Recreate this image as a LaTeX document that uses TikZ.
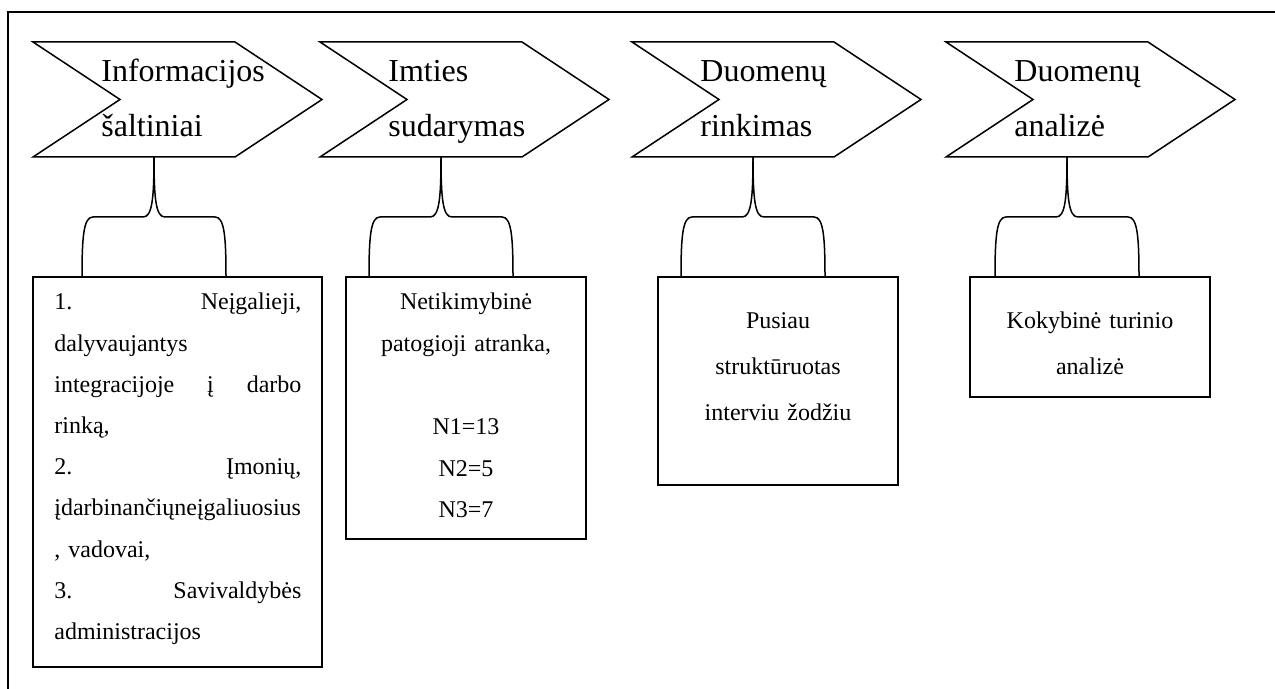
\documentclass[tikz,border=0pt]{standalone}
\usepackage{fontspec}
\setmainfont{Liberation Serif}
\usetikzlibrary{fit}

\tikzset{
  etapas/.style={line width=0.75pt, line join=miter},
  etapotekstas/.style={anchor=base west, inner sep=0pt, text width=110pt, align=left,
    font=\fontsize{16}{27.5}\selectfont},
  dezute/.style={draw, line width=0.75pt, inner sep=0pt},
  turinys/.style={inner sep=0pt, font=\fontsize{12}{20.6}\selectfont},
  skliaustas/.style={line width=0.75pt}
}

\begin{document}
\begin{tikzpicture}[x=0.5pt, y=-0.5pt]

\useasboundingbox (0,0) rectangle (1275,689);

% Remelis
\draw[line width=0.75pt] (8,689) -- (8,12) -- (1275,12);

% Dezutes
\node[dezute, fit={(33,277) (322,667)}] (b1) {};
\node[dezute, fit={(346,277) (586,539)}] (b2) {};
\node[dezute, fit={(658,277) (898,485)}] (b3) {};
\node[dezute, fit={(970,277) (1210,397)}] (b4) {};

\node[turinys, anchor=base west, text width=123.5pt, align=left] (s1) at (54,310)
  {1.\hfill Neįgalieji,\\
   dalyvaujantys\\
   integracijoje\hfill į\hfill darbo\\
   rinką,\\
   2.\hfill Įmonių,\\
   įdarbinančiųneįgaliuosius\\
   , vadovai,\\
   3.\hfill Savivaldybės\\
   administracijos};

\node[turinys, anchor=base, text width=110pt, align=center,
  font=\fontsize{12}{20.8}\selectfont] (s2) at (466,310)
  {Netikimybinė\\patogioji atranka,\\[20.8pt]N1=13\\N2=5\\N3=7};

\node[turinys, anchor=base, text width=110pt, align=center,
  font=\fontsize{12}{23}\selectfont] (s3) at (778,329)
  {Pusiau\\struktūruotas\\interviu žodžiu};

\node[turinys, anchor=base, text width=110pt, align=center,
  font=\fontsize{12}{23}\selectfont] (s4) at (1090,329)
  {Kokybinė turinio\\analizė};

% Etapai ir skliaustai
\foreach \x/\a/\b [count=\i] in {33/Informacijos/šaltiniai, 320/Imties/sudarymas,
                                 632/Duomenų/rinkimas, 946/Duomenų/analizė}{
  \draw[etapas] (\x,42) -- ++(202,0) -- ++(87,57.5) -- ++(-87,57.5)
                -- ++(-202,0) -- ++(87,-57.5) -- cycle;
  \node[etapotekstas] (e\i) at (\x+68,82) {\a\\\b};
  \coordinate (k\i) at (\x+121,157);

  \draw[skliaustas] (k\i) .. controls +(0,43) and +(9,0) .. ++(-11,60) -- ++(-50,0)
        .. controls +(-9,0) and +(0,-42) .. (\x+49,0 |- b\i.north);
  \draw[skliaustas] (k\i) .. controls +(0,43) and +(-9,0) .. ++(11,60) -- ++(50,0)
        .. controls +(9,0) and +(0,-42) .. (\x+193,0 |- b\i.north);
}

\end{tikzpicture}
\end{document}
